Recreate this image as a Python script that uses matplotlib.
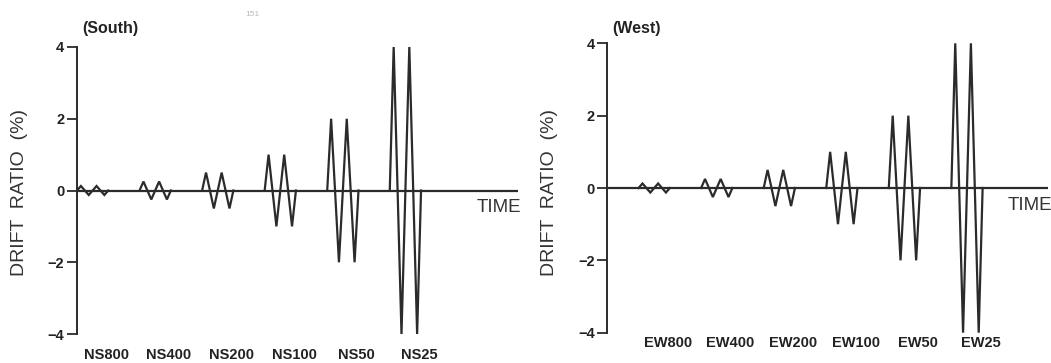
import matplotlib
matplotlib.use("Agg")
import matplotlib.pyplot as plt

# ---- data ----
amplitudes = [0.125, 0.25, 0.5, 1.0, 2.0, 4.0]          # drift ratio (%) per stage
cycle_time = [0, 1, 3, 5, 7, 8]                          # time within one stage (2 cycles)
cycle_shape = [0, 1, -1, 1, -1, 0]                       # normalised drift in one stage
ns_labels = ["NS800", "NS400", "NS200", "NS100", "NS50", "NS25"]
ew_labels = ["EW800", "EW400", "EW200", "EW100", "EW50", "EW25"]
yticks = [-4, -2, 0, 2, 4]
ytick_labels = ["\u22124", "\u22122", "0", "2", "4"]

STAGE_GAP = 16
X_MAX = 112.8
LINE_C = "#2b2b2b"

plt.rcParams["font.family"] = ["Liberation Sans", "DejaVu Sans"]

W, H = 1051, 363
fig = plt.figure(figsize=(W / 100, H / 100), dpi=100)


def panel(rect, labels, start, title, label_pad, ylabel_x, time_x, time_y):
    ax = fig.add_axes(rect)
    ax.set_xlim(0, X_MAX)
    ax.set_ylim(-4, 4)
    for s in ["top", "right", "bottom"]:
        ax.spines[s].set_visible(False)
    ax.spines["left"].set_linewidth(1.4)
    ax.spines["left"].set_color(LINE_C)
    ax.axhline(0, color=LINE_C, lw=1.6, zorder=2)
    for i, a in enumerate(amplitudes):
        t0 = start + STAGE_GAP * i
        xs = [t0 + t for t in cycle_time]
        ys = [a * v for v in cycle_shape]
        ax.plot(xs, ys, color=LINE_C, lw=1.6, clip_on=False, zorder=3,
                solid_joinstyle="miter")
    ax.set_yticks(yticks)
    ax.set_yticklabels(ytick_labels, fontsize=10.5, fontweight="bold", color="#222222")
    ax.tick_params(axis="y", direction="out", length=7, width=1.3, color=LINE_C, pad=2)
    ax.set_xticks([start + STAGE_GAP * i + 7.5 for i in range(len(labels))])
    ax.set_xticklabels(labels, fontsize=10.5, fontweight="bold", color="#222222")
    ax.tick_params(axis="x", length=0, pad=label_pad)
    x0 = rect[0] * W
    fig.text((x0 + 5) / W, 1 - 28 / H, title, fontsize=11.5, fontweight="bold",
             color="#222222", ha="left", va="center")
    fig.text(ylabel_x / W, 1 - 192 / H, "DRIFT  RATIO  (%)", rotation=90,
             fontsize=14, color="#333333", ha="center", va="center")
    fig.text(time_x / W, 1 - time_y / H, "TIME", fontsize=13.5, color="#333333",
             ha="left", va="center")
    return ax


panel([77 / W, 29 / H, 441 / W, 287 / H], ns_labels, 0, "(South)", 10, 20, 477, 208)
panel([607.3 / W, 30.3 / H, 441 / W, 289.4 / H], ew_labels, 8, "(West)", 2.5, 550, 1008, 206)

fig.text(252 / W, 1 - 14 / H, "151", fontsize=6, color="#bbbbbb", ha="center", va="center")

fig.savefig("out.png", dpi=100)
